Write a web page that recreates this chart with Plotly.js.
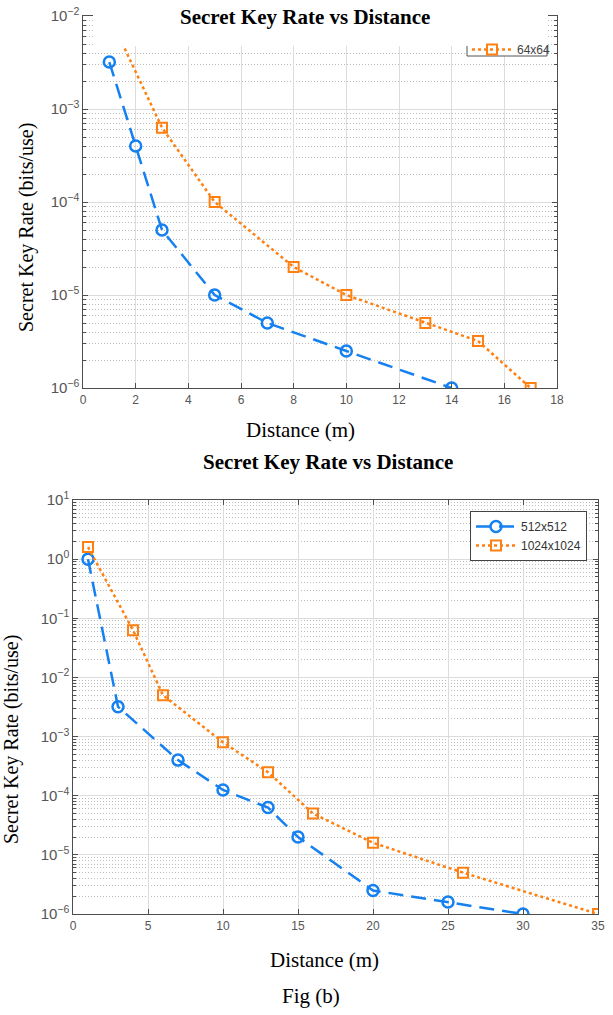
<!DOCTYPE html>
<html><head><meta charset="utf-8">
<script src="https://cdn.plot.ly/plotly-3.0.1.min.js"></script>
<style>html,body{margin:0;padding:0;background:#fff}</style>
</head><body><div id="chart" style="width:613px;height:1015px"></div>
<script>
// ---- data ----
const distTopBlue = [1, 2, 3, 5, 7, 10, 14];
const rateTopBlue = [3.2e-3, 4e-4, 5e-5, 1e-5, 5e-6, 2.5e-6, 1e-6];
const distTopOrange = [1, 3, 5, 8, 10, 13, 15, 17];
const rateTopOrange = [1e-2, 6.3e-4, 1e-4, 2e-5, 1e-5, 5e-6, 3.2e-6, 1e-6];
const nameTopOrange = '64x64';

const distBotBlue = [1, 3, 7, 10, 13, 15, 20, 25, 30];
const rateBotBlue = [1.0, 3.2e-3, 4e-4, 1.25e-4, 6.3e-5, 2e-5, 2.5e-6, 1.6e-6, 1e-6];
const distBotOrange = [1, 4, 6, 10, 13, 16, 20, 26, 35];
const rateBotOrange = [1.6, 6.3e-2, 5e-3, 8e-4, 2.5e-4, 5e-5, 1.6e-5, 5e-6, 1e-6];
const nameBotBlue = '512x512';
const nameBotOrange = '1024x1024';

const chartTitle = 'Secret Key Rate vs Distance';
const xTitle = 'Distance (m)';
const yTitle = 'Secret Key Rate (bits/use)';
const caption = 'Fig (b)';

// ---- styling ----
const W = 613, H = 1015;
const px = v => v / W;
const py = v => 1 - v / H;
const BLUE = '#1580f0';
const ORANGE = '#ff8010';
const SERIF = 'Liberation Serif, Times New Roman, serif';
const SANS = 'Liberation Sans, Arial, sans-serif';

function blueTrace(x, y, xa, ya, extra) {
  return Object.assign({
    x: x, y: y, xaxis: xa, yaxis: ya, mode: 'lines+markers',
    line: {color: BLUE, width: 2.5, dash: '15px,8px'},
    marker: {symbol: 'circle-open', size: 11, color: BLUE, line: {width: 2.5, color: BLUE}}
  }, extra);
}
function orangeTrace(x, y, xa, ya, extra) {
  return Object.assign({
    x: x, y: y, xaxis: xa, yaxis: ya, mode: 'lines+markers',
    line: {color: ORANGE, width: 2.5, dash: 'dot'},
    marker: {symbol: 'square-open', size: 10, color: ORANGE, line: {width: 2, color: ORANGE}}
  }, extra);
}

const data = [
  blueTrace(distTopBlue, rateTopBlue, 'x', 'y', {showlegend: false, name: ''}),
  orangeTrace(distTopOrange, rateTopOrange, 'x', 'y', {name: nameTopOrange, legend: 'legend'}),
  blueTrace(distBotBlue, rateBotBlue, 'x2', 'y2', {name: nameBotBlue, legend: 'legend2'}),
  orangeTrace(distBotOrange, rateBotOrange, 'x2', 'y2', {name: nameBotOrange, legend: 'legend2'})
];

const axBase = {
  showline: true, linecolor: '#4d4d4d', linewidth: 1.3, mirror: 'ticks',
  ticks: 'inside', ticklen: 5, tickcolor: '#4d4d4d', tickwidth: 1,
  tickfont: {family: SANS, size: 12, color: '#555'},
  showgrid: true, gridcolor: '#dcdcdc', gridwidth: 1, zeroline: false, fixedrange: true
};
const minorLog = {
  dtick: 'D1', showgrid: true, gridcolor: '#bdbdbd', griddash: '1px,2px', gridwidth: 1,
  ticks: 'inside', ticklen: 3, tickcolor: '#4d4d4d'
};

const layout = {
  width: W, height: H,
  margin: {l: 0, r: 0, t: 0, b: 0},
  paper_bgcolor: '#fff', plot_bgcolor: '#fff',
  font: {family: SANS, color: '#333'},
  xaxis: Object.assign({}, axBase, {domain: [px(83), px(557)], anchor: 'y', range: [0, 18], dtick: 2, tick0: 0}),
  yaxis: Object.assign({}, axBase, {domain: [py(388), py(16)], anchor: 'x', type: 'log', range: [-6, -2],
    dtick: 1, exponentformat: 'power', minor: minorLog}),
  xaxis2: Object.assign({}, axBase, {domain: [px(73), px(598)], anchor: 'y2', range: [0, 35], dtick: 5, tick0: 0}),
  yaxis2: Object.assign({}, axBase, {domain: [py(914), py(500)], anchor: 'x2', type: 'log', range: [-6, 1],
    dtick: 1, exponentformat: 'power', minor: minorLog,
    labelalias: {'1': '10<sup>0</sup>', '10': '10<sup>1</sup>'}}),
  legend: {
    x: px(467), xanchor: 'left', y: py(35), yanchor: 'top',
    bgcolor: 'rgba(0,0,0,0)', borderwidth: 0, itemwidth: 40,
    font: {family: SANS, size: 12, color: '#444'}
  },
  legend2: {
    x: px(470), xanchor: 'left', y: py(511), yanchor: 'top',
    bgcolor: '#fff', bordercolor: '#444', borderwidth: 1, itemwidth: 40,
    font: {family: SANS, size: 12, color: '#333'}
  },
  shapes: [
    {type: 'rect', xref: 'paper', yref: 'paper', x0: px(467), x1: px(547), y0: py(56), y1: py(30),
      fillcolor: '#fff', line: {color: '#555', width: 1}, layer: 'above'},
    {type: 'rect', xref: 'paper', yref: 'paper', x0: px(93), x1: px(548), y0: py(46), y1: 1.01,
      fillcolor: '#fff', line: {width: 0}, layer: 'above'}
  ],
  annotations: [
    {text: '<b>' + chartTitle + '</b>', xref: 'paper', yref: 'paper', x: px(305), y: py(17),
      xanchor: 'center', yanchor: 'middle', showarrow: false, font: {family: SERIF, size: 21, color: '#000'}},
    {text: xTitle, xref: 'paper', yref: 'paper', x: px(300), y: py(430),
      xanchor: 'center', yanchor: 'middle', showarrow: false, font: {family: SERIF, size: 21, color: '#000'}},
    {text: yTitle, xref: 'paper', yref: 'paper', x: px(26), y: py(228), textangle: -90,
      xanchor: 'center', yanchor: 'middle', showarrow: false, font: {family: SERIF, size: 20, color: '#000'}},
    {text: '<b>' + chartTitle + '</b>', xref: 'paper', yref: 'paper', x: px(328), y: py(462),
      xanchor: 'center', yanchor: 'middle', showarrow: false, font: {family: SERIF, size: 21, color: '#000'}},
    {text: xTitle, xref: 'paper', yref: 'paper', x: px(324), y: py(960),
      xanchor: 'center', yanchor: 'middle', showarrow: false, font: {family: SERIF, size: 21, color: '#000'}},
    {text: yTitle, xref: 'paper', yref: 'paper', x: px(11), y: py(740), textangle: -90,
      xanchor: 'center', yanchor: 'middle', showarrow: false, font: {family: SERIF, size: 20, color: '#000'}},
    {text: caption, xref: 'paper', yref: 'paper', x: px(311), y: py(996),
      xanchor: 'center', yanchor: 'middle', showarrow: false, font: {family: SERIF, size: 21, color: '#000'}}
  ]
};

Plotly.newPlot('chart', data, layout, {displayModeBar: false, staticPlot: true});
</script>
</body></html>
